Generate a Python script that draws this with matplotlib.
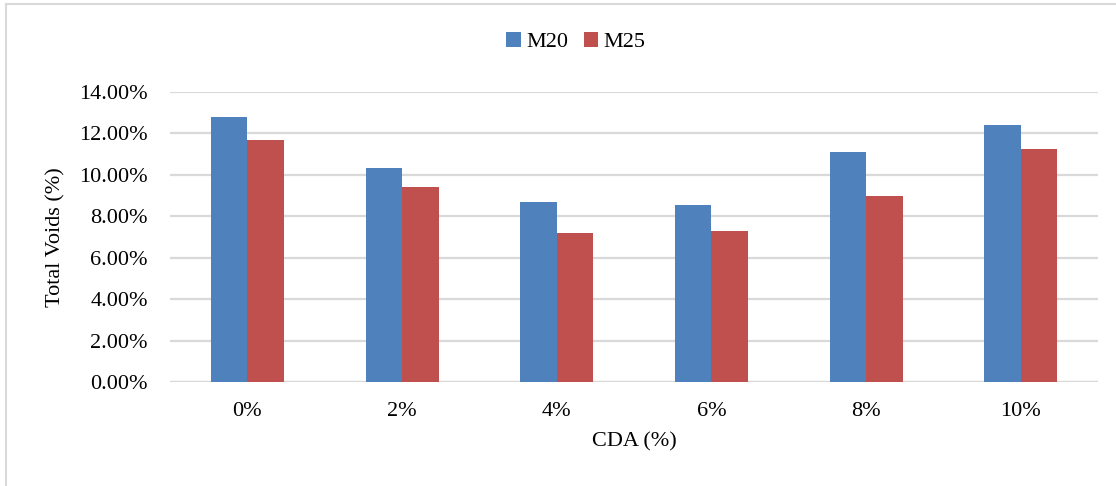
import matplotlib
matplotlib.use("Agg")
import matplotlib.pyplot as plt
from matplotlib.lines import Line2D
from matplotlib.ticker import FuncFormatter, MultipleLocator
import numpy as np

# CDA content and total voids for the two mixes
cda_levels = ["0%", "2%", "4%", "6%", "8%", "10%"]
voids_m20 = [12.80, 10.35, 8.68, 8.55, 11.12, 12.43]
voids_m25 = [11.67, 9.44, 7.19, 7.30, 8.97, 11.25]
series_names = ["M20", "M25"]

blue = "#4F81BD"
red = "#C0504D"
grid_grey = "#D9D9D9"

plt.rcParams["font.family"] = ["Liberation Serif", "DejaVu Serif"]

fig = plt.figure(figsize=(11.16, 4.86), dpi=100)
ax = fig.add_axes([0.1523, 0.213, 0.8317, 0.5977])

x = np.arange(len(cda_levels))
width = 0.236

# bars, side by side in each group
ax.bar(x - width / 2, voids_m20, width, color=blue, label=series_names[0], zorder=3)
ax.bar(x + width / 2, voids_m25, width, color=red, label=series_names[1], zorder=3)

ax.set_xlim(-0.5, len(cda_levels) - 0.5)
ax.set_ylim(0, 14)
ax.yaxis.set_major_locator(MultipleLocator(2))
ax.yaxis.set_major_formatter(FuncFormatter(lambda v, p: f"{v:.2f}%"))
ax.set_xticks(x)
ax.set_xticklabels(cda_levels)

# horizontal gridlines only, no frame
ax.grid(axis="y", color=grid_grey, linewidth=1.6, zorder=0)
ax.set_axisbelow(True)
for side in ["top", "right", "left", "bottom"]:
    ax.spines[side].set_visible(False)
ax.axhline(0, color=grid_grey, linewidth=1.6, zorder=1)

ax.tick_params(axis="both", length=0, labelsize=16, colors="black")
ax.tick_params(axis="y", pad=16)
ax.tick_params(axis="x", pad=14)

ax.set_ylabel("Total Voids (%)", fontsize=16, labelpad=10)
ax.set_xlabel("CDA (%)", fontsize=16, labelpad=8)

# legend across the top
handles, labels = ax.get_legend_handles_labels()
fig.legend(handles, labels, loc="center", bbox_to_anchor=(0.516, 0.913), ncol=2,
           frameon=False, fontsize=16, handlelength=0.65, handleheight=0.65,
           handletextpad=0.25, columnspacing=0.7)

# thin grey border on the top and left
fig.add_artist(Line2D([0.0058, 1.0], [0.9918, 0.9918], color=grid_grey, linewidth=1.5,
                      transform=fig.transFigure))
fig.add_artist(Line2D([0.0058, 0.0058], [0.0, 0.9918], color=grid_grey, linewidth=1.5,
                      transform=fig.transFigure))

fig.savefig("out.png", dpi=100)
